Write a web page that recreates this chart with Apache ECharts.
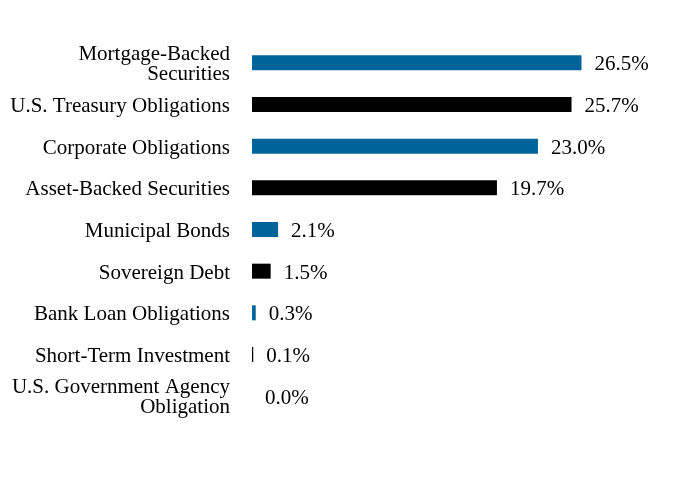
<!DOCTYPE html>
<html>
<head>
<meta charset="utf-8">
<script src="https://cdn.jsdelivr.net/npm/echarts@6/dist/echarts.min.js"></script>
<style>
  html, body { margin: 0; padding: 0; background: #fff; }
  #chart { width: 684px; height: 504px; }
</style>
</head>
<body>
<div id="chart"></div>
<script>
// sector names, top to bottom
const categories = [
  'Mortgage-Backed\nSecurities',
  'U.S. Treasury Obligations',
  'Corporate Obligations',
  'Asset-Backed Securities',
  'Municipal Bonds',
  'Sovereign Debt',
  'Bank Loan Obligations',
  'Short-Term Investment',
  'U.S. Government Agency\nObligation',
]
const weights = [26.5, 25.7, 23.0, 19.7, 2.1, 1.5, 0.3, 0.1, 0.0]

const BLUE = '#00639a'
const BLACK = '#000000'

const chart = echarts.init(document.getElementById('chart'))

const txt = {
  color: '#000',
  fontFamily: 'Liberation Serif',
  fontSize: 21,
  lineHeight: 20,
}

chart.setOption({
  animation: false,
  grid: {
    top: 42,
    bottom: 87,
    left: 252,
    right: 59,
  },
  xAxis: {
    type: 'value',
    min: 0,
    max: 30,
    show: false,
  },
  yAxis: {
    type: 'category',
    inverse: true,
    data: categories,
    axisLine: { show: false },
    axisTick: { show: false },
    splitLine: { show: false },
    axisLabel: {
      margin: 22,
      align: 'right',
      ...txt,
      // nudge text a little lower, like the original
      formatter: (v) => {
        const lines = v.split('\n')
        if (lines.length === 1) return `{one|${v}}`
        return lines.map((s) => `{two|${s}}`).join('\n')
      },
      rich: {
        one: { ...txt, align: 'right', padding: [4, 0, 0, 0] },
        two: { ...txt, align: 'right', padding: [3, 0, 0, 0] },
      },
    },
  },
  series: [
    {
      type: 'bar',
      barWidth: 15,
      data: weights.map((v, i) => ({
        value: v,
        itemStyle: { color: i % 2 === 0 ? BLUE : BLACK },
      })),
      label: {
        show: true,
        position: 'right',
        distance: 13,
        offset: [0, 2],
        ...txt,
        formatter: (p) => p.value.toFixed(1) + '%',
      },
    },
  ],
})
</script>
</body>
</html>
